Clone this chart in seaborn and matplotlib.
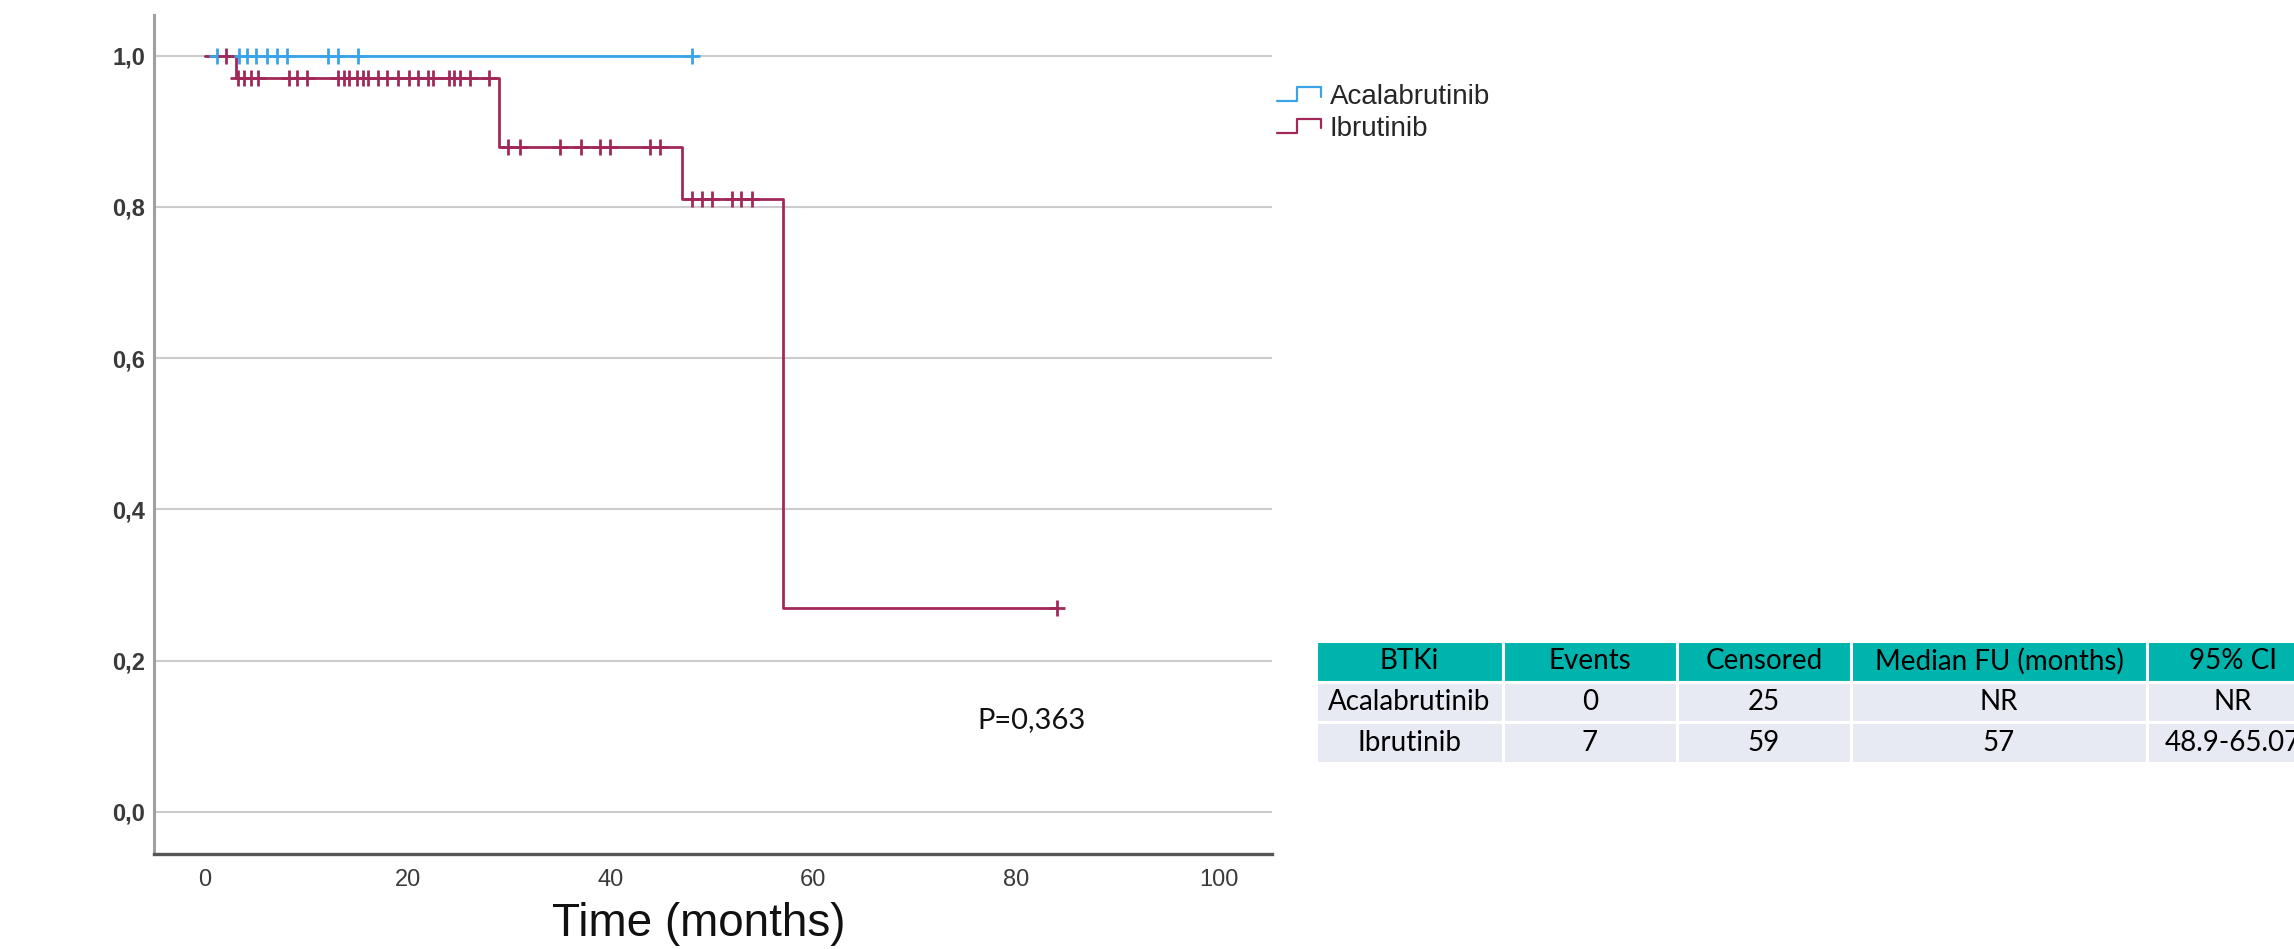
import numpy as np
import matplotlib
matplotlib.use("Agg")
import matplotlib.pyplot as plt
import seaborn as sns
from matplotlib.lines import Line2D
from matplotlib.legend_handler import HandlerBase

# --------------------------------------
# Data
# --------------------------------------

groups = ["Acalabrutinib", "Ibrutinib"]
colors = ["#3BA4E8", "#A3285A"]

# step curve: times where survival changes, and survival from that time on
acala_times = [0, 48.0]
acala_surv = [1.0, 1.0]
acala_censor = [1.2, 3.4, 4.2, 5.1, 6.1, 7.1, 8.1, 12.2, 13.1, 15.1, 48.0]

ibru_times = [0, 3.1, 29.0, 47.0, 57.0, 84.0]
ibru_surv = [1.0, 0.97, 0.88, 0.81, 0.27, 0.27]
ibru_censor = [2.1, 3.3, 3.9, 4.6, 5.3, 8.3, 9.1, 10.1, 13.1, 13.7, 14.2, 15.0,
               15.6, 16.1, 17.1, 18.0, 19.1, 20.1, 21.0, 22.0, 22.5, 24.1, 24.6,
               25.2, 26.1, 28.0, 29.9, 31.1, 35.0, 37.1, 39.0, 39.9, 43.9, 44.9,
               48.0, 49.0, 50.0, 52.0, 52.9, 53.9, 84.0]

p_text = "P=0,363"

table_cols = ["BTKi", "Events", "Censored", "Median FU (months)", "95% CI"]
table_rows = [["Acalabrutinib", "0", "25", "NR", "NR"],
              ["Ibrutinib", "7", "59", "57", "48.9-65.07"]]

y_ticks = [0.0, 0.2, 0.4, 0.6, 0.8, 1.0]
x_ticks = [0, 20, 40, 60, 80, 100]


def surv_at(times, surv, t):
    idx = np.searchsorted(times, t, side="right") - 1
    return np.array(surv)[idx]


class StepHandler(HandlerBase):
    def create_artists(self, legend, orig_handle, xdescent, ydescent,
                       width, height, fontsize, trans):
        x0 = -xdescent
        y0 = -ydescent
        xs = [x0, x0 + 0.45 * width, x0 + 0.45 * width, x0 + width, x0 + width]
        ys = [y0 + 0.1 * height, y0 + 0.1 * height, y0 + 0.9 * height,
              y0 + 0.9 * height, y0 + 0.35 * height]
        line = Line2D(xs, ys, color=orig_handle.get_color(), lw=1.6,
                      transform=trans)
        return [line]


# --------------------------------------
# Figure
# --------------------------------------

sns.set_style("white")
plt.rcParams["font.family"] = ["Liberation Sans", "DejaVu Sans"]

W, H = 2294, 949
fig = plt.figure(figsize=(W / 100, H / 100), dpi=100)

ax = fig.add_axes([154 / W, 1 - 854 / H, (1272 - 154) / W, (854 - 15) / H])

sns.lineplot(x=acala_times, y=acala_surv, drawstyle="steps-post",
             color=colors[0], lw=2, estimator=None, sort=False, ax=ax)
sns.lineplot(x=ibru_times, y=ibru_surv, drawstyle="steps-post",
             color=colors[1], lw=2, estimator=None, sort=False, ax=ax)

sns.scatterplot(x=acala_censor, y=surv_at(acala_times, acala_surv, acala_censor),
                marker="+", s=140, color=colors[0], linewidth=2, ax=ax,
                zorder=3)
sns.scatterplot(x=ibru_censor, y=surv_at(ibru_times, ibru_surv, ibru_censor),
                marker="+", s=140, color=colors[1], linewidth=2, ax=ax,
                zorder=3)

ax.set_xlim(-5, 105.2)
ax.set_ylim(-0.056, 1.054)
ax.set_yticks(y_ticks)
ax.set_yticklabels([f"{v:.1f}".replace(".", ",") for v in y_ticks])
ax.set_xticks(x_ticks)
ax.set_xticklabels([str(v) for v in x_ticks])
ax.tick_params(axis="y", length=0, pad=6.5, labelsize=17, labelcolor="#3a3a3a")
ax.tick_params(axis="x", length=0, pad=11, labelsize=17, labelcolor="#3a3a3a")
plt.setp(ax.get_yticklabels(), fontweight="bold")

ax.grid(axis="y", color="#cccccc", lw=1.5)
ax.grid(axis="x", visible=False)
ax.set_axisbelow(True)

for side in ["top", "right"]:
    ax.spines[side].set_visible(False)
ax.spines["left"].set_color("#a0a0a0")
ax.spines["left"].set_linewidth(2.2)
ax.spines["bottom"].set_color("#555555")
ax.spines["bottom"].set_linewidth(2.4)

ax.set_xlabel("Time (months)", fontsize=33, va="center", color="#111111")
ax.xaxis.set_label_coords((699 - 154) / (1272 - 154), (854 - 924) / (854 - 15))
ax.set_ylabel("")

# legend with step-shaped handles
handles = [Line2D([], [], color=c) for c in colors]
fig.legend(handles, groups, loc="upper left",
           bbox_to_anchor=(1277 / W, 1 - 84 / H),
           handler_map={Line2D: StepHandler()},
           frameon=False, borderpad=0, borderaxespad=0,
           handlelength=1.6, handleheight=0.6, handletextpad=0.3,
           labelspacing=0.2, prop={"size": 20})

# p-value
fig.text(1031 / W, 1 - 720 / H, p_text, ha="center", va="center",
         fontsize=21, family=["Lato", "DejaVu Sans"], color="#111111")

# --------------------------------------
# Summary table
# --------------------------------------

edges = [1316, 1503, 1677, 1851, 2147, 2319]
tab_ax = fig.add_axes([edges[0] / W, 1 - 763 / H, (edges[-1] - edges[0]) / W,
                       (763 - 641) / H])
tab_ax.axis("off")
widths = np.diff(edges) / (edges[-1] - edges[0])
tbl = tab_ax.table(cellText=table_rows, colLabels=table_cols,
                   colWidths=list(widths), cellLoc="center",
                   bbox=[0, 0, 1, 1])
tbl.auto_set_font_size(False)
for (r, c), cell in tbl.get_celld().items():
    cell.set_edgecolor("white")
    cell.set_linewidth(2.2)
    cell.set_facecolor("#00B4AE" if r == 0 else "#E8EAF3")
    cell.get_text().set_fontsize(20)
    cell.get_text().set_family(["Lato", "DejaVu Sans"])
    cell.get_text().set_color("black")

fig.savefig("out.png", dpi=100)
